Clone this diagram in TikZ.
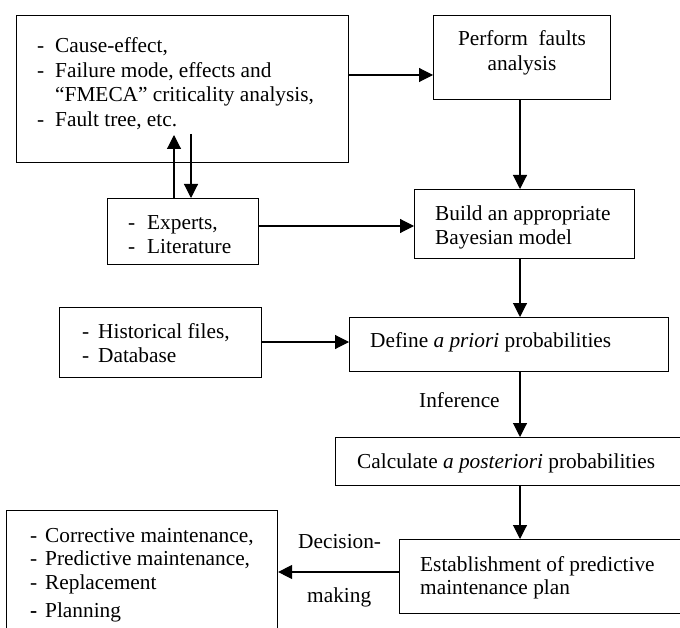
\documentclass[tikz,border=0pt]{standalone}
\usepackage{fontspec}
\setmainfont{Liberation Serif}
\usetikzlibrary{arrows.meta}
\begin{document}
\begin{tikzpicture}[x=1bp,y=-1bp,
  box/.style={draw,line width=1.1bp,inner sep=0pt,anchor=north west},
  txt/.style={anchor=base west,inner sep=0pt,font=\fontsize{21.4}{25}\selectfont},
  arr/.style={line width=1.1bp,-{Triangle[length=14bp,width=14bp]}}]
\useasboundingbox (0,0) rectangle (680,628);
\clip (0,0) rectangle (680,628);
% boxes
\node[box,minimum width=332bp,minimum height=147bp] (A) at (16,15) {};
\node[box,minimum width=177bp,minimum height=84bp] (B) at (433,15) {};
\node[box,minimum width=220bp,minimum height=69bp] (C) at (414,189) {};
\node[box,minimum width=151bp,minimum height=66bp] (D) at (107,198) {};
\node[box,minimum width=202bp,minimum height=70bp] (E) at (59,307) {};
\node[box,minimum width=319bp,minimum height=54bp] (F) at (349,317) {};
\node[box,minimum width=500bp,minimum height=48bp] (G) at (335,437) {};
\node[box,minimum width=420bp,minimum height=74bp] (H) at (399,539) {};
\node[box,minimum width=271bp,minimum height=200bp] (I) at (6,510) {};
% texts A
\node[txt] (a1d) at (37,53) {-};
\node[txt] (a1) at (55,53) {Cause-effect,};
\node[txt] (a2d) at (37,78) {-};
\node[txt] (a2) at (55,78) {Failure mode, effects and};
\node[txt] (a3) at (55,102) {“FMECA” criticality analysis,};
\node[txt] (a4d) at (37,127) {-};
\node[txt] (a4) at (55,127) {Fault tree, etc.};
% B
\node[txt,anchor=base] (b1) at (522,46) {Perform\ \ faults};
\node[txt,anchor=base] (b2) at (522,71) {analysis};
% C
\node[txt] (c1) at (435,220) {Build an appropriate};
\node[txt] (c2) at (435,244) {Bayesian model};
% D
\node[txt] (d1d) at (128,229) {-};
\node[txt] (d1) at (147,229) {Experts,};
\node[txt] (d2d) at (128,253) {-};
\node[txt] (d2) at (147,253) {Literature};
% E
\node[txt] (e1d) at (82,338) {-};
\node[txt] (e1) at (98,338) {Historical files,};
\node[txt] (e2d) at (82,362) {-};
\node[txt] (e2) at (98,362) {Database};
% F
\node[txt] (f1) at (370,347) {Define \textit{a priori} probabilities};
% G
\node[txt] (g1) at (357,468) {Calculate \textit{a posteriori} probabilities};
% H
\node[txt] (h1) at (420,571) {Establishment of predictive};
\node[txt] (h2) at (420,594) {maintenance plan};
% I
\node[txt] (i1d) at (30,542) {-};
\node[txt] (i1) at (45,542) {Corrective maintenance,};
\node[txt] (i2d) at (30,565) {-};
\node[txt] (i2) at (45,565) {Predictive maintenance,};
\node[txt] (i3d) at (30,589) {-};
\node[txt] (i3) at (45,589) {Replacement};
\node[txt] (i4d) at (30,617) {\textbf{-}};
\node[txt] (i4) at (45,617) {Planning};
% labels
\node[txt] (inf) at (419,407) {Inference};
\node[txt] (dec1) at (298,548) {Decision-};
\node[txt] (dec2) at (307,602) {making};
% connector coordinates
\coordinate (rAB) at (0,75);
\coordinate (rDC) at (0,226);
\coordinate (rEF) at (0,342);
\coordinate (rHI) at (0,572);
\coordinate (cV) at (520,0);
\coordinate (cUp) at (174,135);
\coordinate (cDn) at (191,134);
% connectors
\draw[arr] (A.east |- rAB) -- (B.west |- rAB);
\draw[arr] (B.south -| cV) -- (C.north -| cV);
\draw[arr] (D.east |- rDC) -- (C.west |- rDC);
\draw[arr] (C.south -| cV) -- (F.north -| cV);
\draw[arr] (E.east |- rEF) -- (F.west |- rEF);
\draw[arr] (F.south -| cV) -- (G.north -| cV);
\draw[arr] (G.south -| cV) -- (H.north -| cV);
\draw[arr] (H.west |- rHI) -- (I.east |- rHI);
\draw[arr] (D.north -| cUp) -- (cUp);
\draw[arr] (cDn) -- (D.north -| cDn);
\end{tikzpicture}
\end{document}
